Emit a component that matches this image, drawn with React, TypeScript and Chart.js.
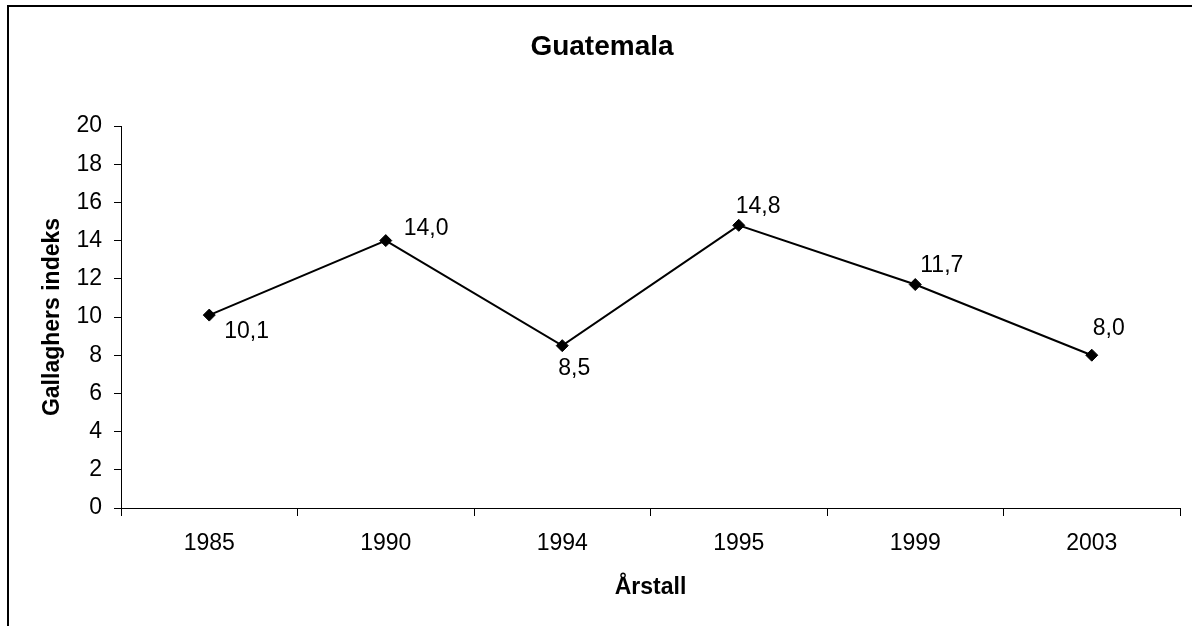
import React, { useEffect, useRef } from "react";
import { Chart, registerables } from "chart.js";

Chart.register(...registerables);

const chartTitle = "Guatemala";
const xTitle = "Årstall";
const yTitle = "Gallaghers indeks";
const years = ["1985", "1990", "1994", "1995", "1999", "2003"];
const gallagher = [10.1, 14.0, 8.5, 14.8, 11.7, 8.0];
const yMin = 0;
const yMax = 20;
const yStep = 2;

// label placement relative to each point: [dx to left edge, dy to text centre]
const labelOffsets: [number, number][] = [
  [15, 17],
  [18, -12],
  [-4, 23],
  [-3, -19],
  [5, -19],
  [1, -27],
];

const FONT = "'Liberation Sans', Arial, sans-serif";

const textPlugin = {
  id: "excelTexts",
  afterDraw(chart: any) {
    const ctx = chart.ctx;
    const area = chart.chartArea;
    ctx.save();
    // outer chart border
    ctx.strokeStyle = "#000";
    ctx.lineWidth = 2;
    ctx.strokeRect(8, 6, 1300, 800);
    ctx.fillStyle = "#000";
    // title
    ctx.font = `bold 28px ${FONT}`;
    ctx.textAlign = "center";
    ctx.textBaseline = "middle";
    ctx.fillText(chartTitle, 602, 47);
    // x title
    ctx.font = `bold 23px ${FONT}`;
    ctx.fillText(xTitle, (area.left + area.right) / 2, 588);
    // y title
    ctx.save();
    ctx.translate(53, (area.top + area.bottom) / 2);
    ctx.rotate(-Math.PI / 2);
    ctx.fillText(yTitle, 0, 0);
    ctx.restore();
    // data labels
    ctx.font = `23px ${FONT}`;
    ctx.textAlign = "left";
    const meta = chart.getDatasetMeta(0);
    meta.data.forEach((pt: any, i: number) => {
      const [dx, dy] = labelOffsets[i];
      const txt = gallagher[i].toFixed(1).replace(".", ",");
      ctx.fillText(txt, pt.x + dx, pt.y + dy);
    });
    ctx.restore();
  },
};

export default function App() {
  const ref = useRef<HTMLCanvasElement>(null);
  useEffect(() => {
    if (!ref.current) return;
    const chart = new Chart(ref.current, {
      type: "line",
      data: {
        labels: years,
        datasets: [
          {
            data: gallagher,
            borderColor: "#000",
            borderWidth: 2,
            backgroundColor: "#000",
            pointStyle: "rectRot",
            pointRadius: 6,
            pointBackgroundColor: "#000",
            pointBorderColor: "#000",
            pointBorderWidth: 1,
            tension: 0,
          },
        ],
      },
      options: {
        animation: false,
        responsive: false,
        events: [],
        layout: { padding: { left: 0, top: 126, right: 12, bottom: 0 } },
        plugins: {
          legend: { display: false },
          tooltip: { enabled: false },
          title: { display: false },
        },
        scales: {
          x: {
            type: "category",
            offset: true,
            grid: {
              offset: true,
              drawOnChartArea: false,
              drawTicks: true,
              tickLength: 8,
              color: "#000",
            },
            border: { color: "#000", width: 1 },
            ticks: {
              color: "#000",
              font: { family: FONT, size: 23 },
              padding: 14,
              maxRotation: 0,
            },
            afterFit(scale: any) {
              scale.height = 118;
            },
          },
          y: {
            min: yMin,
            max: yMax,
            grid: {
              drawOnChartArea: false,
              drawTicks: true,
              tickLength: 7,
              color: "#000",
            },
            border: { color: "#000", width: 1 },
            ticks: {
              stepSize: yStep,
              color: "#000",
              font: { family: FONT, size: 23 },
              padding: 12,
            },
            afterFit(scale: any) {
              scale.width = 121;
            },
          },
        },
      },
      plugins: [textPlugin],
    });
    return () => chart.destroy();
  }, []);
  return (
    <div style={{ position: "fixed", left: 0, top: 0, width: 1192, height: 626, background: "#fff" }}>
      <canvas ref={ref} width={1192} height={626} style={{ display: "block" }} />
    </div>
  );
}
